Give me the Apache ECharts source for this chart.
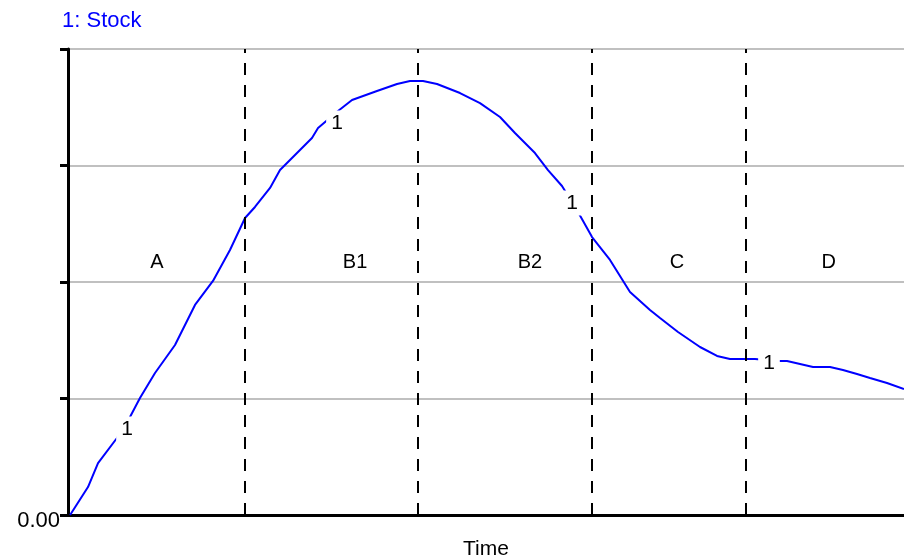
<!DOCTYPE html>
<html>
<head>
<meta charset="utf-8">
<script src="https://cdn.jsdelivr.net/npm/echarts@6/dist/echarts.min.js"></script>
<style>
  html, body { margin: 0; padding: 0; background: #fff; }
  #chart { width: 904px; height: 560px; }
</style>
</head>
<body>
<div id="chart"></div>
<script>
// stock curve
var timeVals = [0.3, 2.87, 4.31, 7.03, 8.9, 10.33, 12.49, 15.36, 18.23, 20.81, 23.25, 25.41, 26.84, 29.0, 30.43, 33.3, 35.02, 35.89, 38.76, 40.77, 44.35, 47.23, 49.09, 50.96, 52.97, 56.27, 59.14, 62.01, 64.16, 67.03, 68.9, 70.91, 73.21, 75.22, 77.8, 80.67, 83.54, 84.98, 87.56, 90.72, 93.16, 95.02, 98.61, 101.63, 103.21, 106.94, 109.38, 111.24, 113.25, 115.12, 117.56, 120];
var stockVals = [0, 0.24, 0.446, 0.661, 0.841, 1.004, 1.219, 1.459, 1.803, 2.009, 2.275, 2.549, 2.644, 2.807, 2.961, 3.133, 3.236, 3.322, 3.468, 3.562, 3.639, 3.7, 3.725, 3.725, 3.7, 3.622, 3.536, 3.416, 3.279, 3.107, 2.961, 2.824, 2.601, 2.386, 2.189, 1.914, 1.76, 1.691, 1.571, 1.442, 1.365, 1.339, 1.339, 1.322, 1.322, 1.27, 1.27, 1.245, 1.21, 1.176, 1.133, 1.082];

// "1" series markers
var markX = [8.47, 38.61, 72.34, 100.62];
var markY = [0.738, 3.365, 2.678, 1.305];

// phase boundaries and names
var phaseLines = [25.41, 50.24, 75.22, 97.32];
var phaseNames = ['A', 'B1', 'B2', 'C', 'D'];
var phaseX = [12.78, 41.2, 66.3, 87.4, 109.2];
var phaseY = 2.17;

var FONT = 'Liberation Sans, Arial, sans-serif';
var chart = echarts.init(document.getElementById('chart'));

var lineData = timeVals.map(function (t, i) { return [t, stockVals[i]]; });
var markData = markX.map(function (t, i) { return [t, markY[i]]; });
var phaseData = phaseNames.map(function (n, i) { return { name: n, value: [phaseX[i], phaseY] }; });

var option = {
  animation: false,
  textStyle: { fontFamily: FONT },
  title: {
    text: '1: Stock',
    left: 57,
    top: 5,
    textStyle: { color: '#0000ff', fontSize: 22, fontWeight: 'normal', fontFamily: FONT }
  },
  grid: { left: 68, right: 0, top: 49, bottom: 45, containLabel: false, outerBoundsMode: 'none' },
  xAxis: {
    type: 'value',
    min: 0,
    max: 120,
    name: 'Time',
    nameLocation: 'middle',
    nameGap: 24,
    nameTextStyle: { color: '#000', fontSize: 21, fontFamily: FONT },
    axisLine: { show: true, lineStyle: { color: '#000', width: 3 } },
    axisTick: { show: false },
    axisLabel: { show: false },
    splitLine: { show: false }
  },
  yAxis: {
    type: 'value',
    min: 0,
    max: 4,
    interval: 1,
    axisLine: { show: true, lineStyle: { color: '#000', width: 3 } },
    axisTick: { show: true, length: 8, lineStyle: { color: '#000', width: 3 } },
    axisLabel: {
      color: '#000',
      fontSize: 22,
      fontFamily: FONT,
      margin: 8,
      verticalAlign: 'top',
      lineHeight: 12,
      formatter: function (v) { return v === 0 ? '0.00' : ''; }
    },
    splitLine: { show: true, lineStyle: { color: '#c0c0c0', width: 2 } }
  },
  series: [
    {
      type: 'line',
      data: lineData,
      showSymbol: false,
      symbol: 'none',
      lineStyle: { color: '#0000ff', width: 2 },
      z: 3,
      markLine: {
        silent: true,
        symbol: ['none', 'none'],
        label: { show: false },
        lineStyle: { color: '#000', width: 2, type: [12, 10] },
        data: phaseLines.map(function (x) { return { xAxis: x }; })
      }
    },
    {
      type: 'scatter',
      data: markData,
      symbolSize: 0,
      itemStyle: { color: '#000', opacity: 1 },
      z: 5,
      silent: true,
      label: {
        show: true,
        position: 'inside',
        formatter: '1',
        color: '#000',
        fontSize: 21,
        fontFamily: FONT,
        backgroundColor: '#fff',
        padding: [2, 5]
      }
    },
    {
      type: 'scatter',
      data: phaseData,
      symbolSize: 0,
      itemStyle: { color: '#000', opacity: 1 },
      z: 5,
      silent: true,
      label: {
        show: true,
        position: 'inside',
        formatter: '{b}',
        color: '#000',
        fontSize: 20,
        fontFamily: FONT
      }
    }
  ]
};

chart.setOption(option);
</script>
</body>
</html>
